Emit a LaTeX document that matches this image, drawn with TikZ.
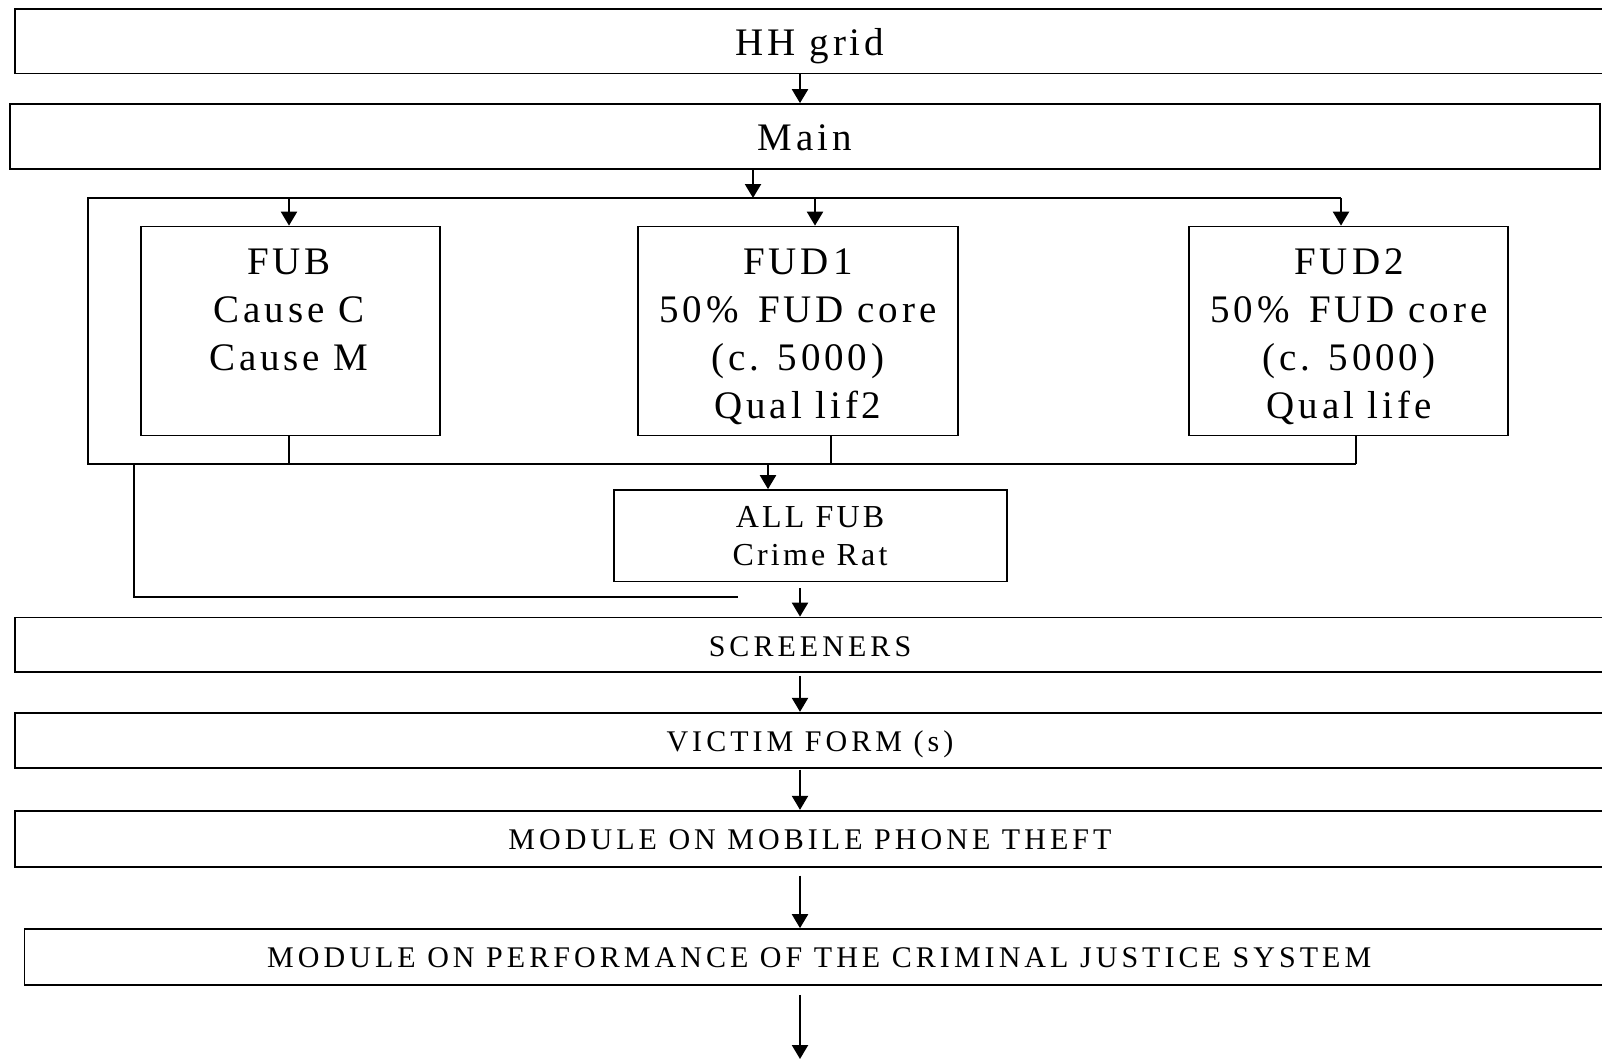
\documentclass[tikz,border=0pt]{standalone}
\usepackage{fontspec}
\setmainfont{Liberation Serif}[LetterSpace=10]
\usetikzlibrary{arrows.meta}
\begin{document}
\begin{tikzpicture}[x=0.5pt,y=-0.5pt,
  line width=0.85pt,
  box/.style={draw, rectangle, inner sep=0pt, align=center, text depth=0pt},
  label/.style={inner sep=0pt, align=center},
  bigtext/.style={font=\fontsize{19.5}{24}\selectfont},
  midtext/.style={font=\fontsize{16}{18.85}\selectfont},
  smalltext/.style={font=\fontsize{15}{18}\selectfont\addfontfeatures{LetterSpace=13.5}},
  arr/.style={line width=1.1pt, -{Triangle[width=8pt,length=7pt]}}]
\useasboundingbox (0,0) rectangle (1602,1060);
\clip (0,0) rectangle (1602,1060);

% survey stages
\node[box,bigtext,text height=14pt,minimum width=795pt,minimum height=32.3pt] (hh) at (810,41.3) {HH grid};
\node[box,bigtext,text height=13.8pt,minimum width=795pt,minimum height=32.5pt] (main) at (805,136.5) {Main};
\node[box,minimum width=149.5pt,minimum height=104.5pt] (fub) at (290.5,331) {};
\node[box,minimum width=160pt,minimum height=104.5pt] (fud1) at (798,331) {};
\node[box,minimum width=159.5pt,minimum height=104.5pt] (fud2) at (1348.5,331) {};
\node[box,minimum width=196.5pt,minimum height=45.75pt] (all) at (810.5,535.75) {};
\node[box,smalltext,text height=11.9pt,minimum width=795pt,minimum height=27.25pt] (scr) at (810,644.75) {SCREENERS};
\node[box,smalltext,text height=11.4pt,minimum width=795pt,minimum height=27.5pt] (vic) at (810,740.2) {VICTIM FORM (s)};
\node[box,smalltext,text height=10.5pt,minimum width=795pt,minimum height=28pt] (mob) at (810,838.7) {MODULE ON MOBILE PHONE THEFT};
\node[box,smalltext,text height=10.6pt,minimum width=794.75pt,minimum height=28pt] (cjs) at (819.25,957) {MODULE ON PERFORMANCE OF THE CRIMINAL JUSTICE SYSTEM};

% box contents, hung from the cap line of the first row
\node[label,bigtext,anchor=north] (fubtext) at (289,248.3) {FUB\\Cause C\\Cause M};
\node[label,bigtext,anchor=north] (fud1text) at (798,248.3) {FUD1\\50\%\hspace{3pt} FUD core\\(c. 5000)\\Qual lif2};
\node[label,bigtext,anchor=north] (fud2text) at (1349,248.3) {FUD2\\50\%\hspace{3pt} FUD core\\(c. 5000)\\Qual life};
\node[label,midtext,anchor=north] (alltext) at (810,506) {ALL FUB\\Crime Rat};

% connector columns and bus corners
\coordinate (xa) at (800,0);
\coordinate (xb) at (753,0);
\coordinate (xc) at (815,0);
\coordinate (xe) at (831,0);
\coordinate (xg) at (768,0);
\coordinate (xh) at (134,0);
\coordinate (busTL) at (88,198);
\coordinate (busTR) at (1341,198);
\coordinate (busBL) at (88,464);
\coordinate (busBR) at (1356,464);
\coordinate (loopEnd) at (738,597);
\coordinate (tail) at (800,1059);

% distribution bus around the three sub-samples
\draw (busTR) -- (busTL) -- (busBL) -- (busBR);

\draw[arr] (hh.south -| xa) -- (main.north -| xa);
\draw[arr] (main.south -| xb) -- (busTL -| xb);
\draw[arr] (busTL -| fubtext.north) -- (fub.north -| fubtext.north);
\draw[arr] (busTL -| xc) -- (fud1.north -| xc);
\draw[arr] (busTR) -- (fud2.north -| busTR);

\draw (fub.south -| fubtext.north) -- (busBL -| fubtext.north);
\draw (fud1.south -| xe) -- (busBL -| xe);
\draw (fud2.south -| busBR) -- (busBR);

\draw[arr] (busBL -| xg) -- (all.north -| xg);
\draw (busBL -| xh) |- (loopEnd);

\draw[arr,shorten <=3pt] (all.south -| xa) -- (scr.north -| xa);
\draw[arr,shorten <=1.5pt] (scr.south -| xa) -- (vic.north -| xa);
\draw[arr,shorten <=0.5pt] (vic.south -| xa) -- (mob.north -| xa);
\draw[arr,shorten <=4pt] (mob.south -| xa) -- (cjs.north -| xa);
\draw[arr,shorten <=4.5pt] (cjs.south -| xa) -- (tail);
\end{tikzpicture}
\end{document}
